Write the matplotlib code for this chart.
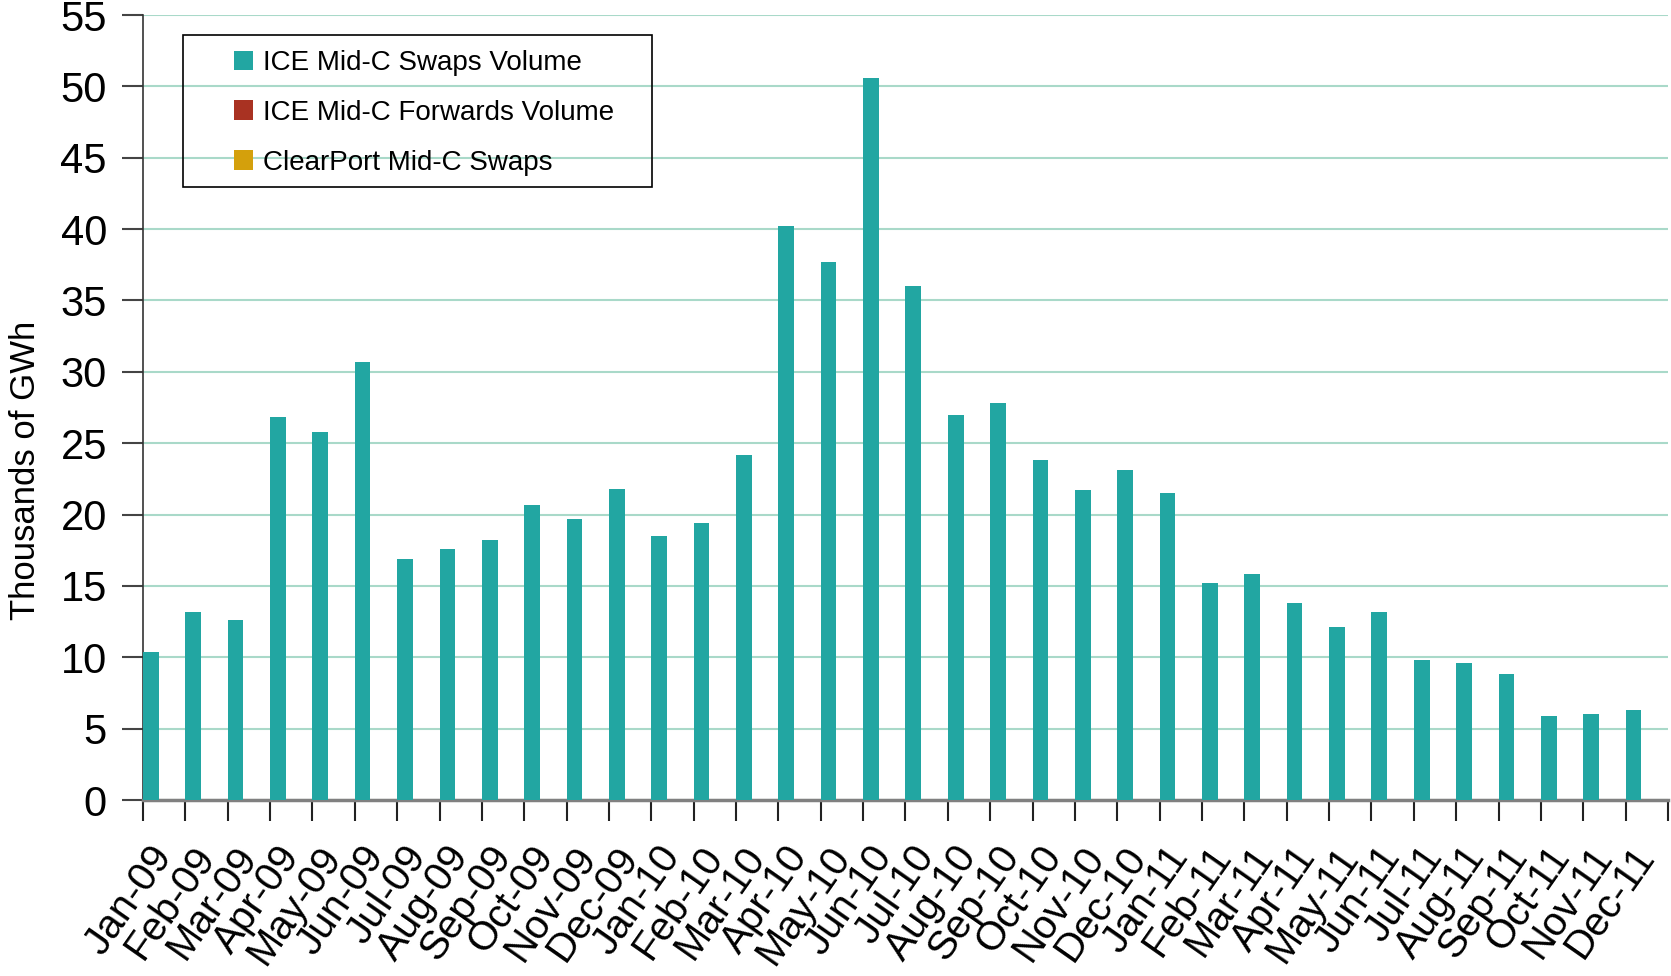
import matplotlib
matplotlib.use('Agg')
import matplotlib.pyplot as plt
from matplotlib.patches import Rectangle
import numpy as np

plt.rcParams['font.family'] = ['Liberation Sans', 'DejaVu Sans']

# 月份标签
months = ['Jan-09', 'Feb-09', 'Mar-09', 'Apr-09', 'May-09', 'Jun-09',
          'Jul-09', 'Aug-09', 'Sep-09', 'Oct-09', 'Nov-09', 'Dec-09',
          'Jan-10', 'Feb-10', 'Mar-10', 'Apr-10', 'May-10', 'Jun-10',
          'Jul-10', 'Aug-10', 'Sep-10', 'Oct-10', 'Nov-10', 'Dec-10',
          'Jan-11', 'Feb-11', 'Mar-11', 'Apr-11', 'May-11', 'Jun-11',
          'Jul-11', 'Aug-11', 'Sep-11', 'Oct-11', 'Nov-11', 'Dec-11']

# 数据 (千 GWh)
ice_swaps = [10.4, 13.2, 12.6, 26.8, 25.8, 30.7,
             16.9, 17.6, 18.2, 20.7, 19.7, 21.8,
             18.5, 19.4, 24.2, 40.2, 37.7, 50.6,
             36.0, 27.0, 27.8, 23.8, 21.7, 23.1,
             21.5, 15.2, 15.8, 13.8, 12.1, 13.2,
             9.8, 9.6, 8.8, 5.9, 6.0, 6.3]
ice_forwards = [0] * 36
clearport = [0] * 36

series_names = ['ICE Mid-C Swaps Volume', 'ICE Mid-C Forwards Volume',
                'ClearPort Mid-C Swaps']
colors = ['#22A6A2', '#A93222', '#D4A00C']

W, H = 1671, 976
fig = plt.figure(figsize=(W / 100, H / 100), dpi=100)
ax = fig.add_axes([143 / W, 1 - 800 / H, (1668 - 143) / W, (800 - 15) / H])

x = np.arange(len(months))
bw = 0.37
handles = []
for k, (vals, name, c) in enumerate(zip([ice_swaps, ice_forwards, clearport],
                                        series_names, colors)):
    b = ax.bar(x + bw / 2 + k * bw, vals, width=bw, color=c, linewidth=0,
               label=name, zorder=3)
    handles.append(b)

ax.set_xlim(0, len(months))
ax.set_ylim(0, 55)
ax.set_yticks(np.arange(0, 56, 5))
ax.yaxis.grid(True, color='#A9D9C9', linewidth=1.5, zorder=0)
ax.set_axisbelow(True)

# x 轴: 主刻度在分界处, 标签放在次刻度(类别中心)
ax.set_xticks(np.arange(0, len(months) + 1))
ax.set_xticklabels([])
ax.set_xticks(x + 0.5, minor=True)
ax.set_xticklabels(months, minor=True, rotation=55, ha='right',
                   va='center', rotation_mode='anchor', fontsize=29)
ax.tick_params(axis='x', which='major', length=15, width=1.5,
               color='#222222', direction='out')
ax.tick_params(axis='x', which='minor', length=0, pad=36)
ax.tick_params(axis='y', length=15, width=1.5, color='#444444',
               direction='out', labelsize=30, pad=11)

for s in ['top', 'right']:
    ax.spines[s].set_visible(False)
ax.spines['left'].set_color('#333333')
ax.spines['left'].set_linewidth(1.2)
ax.spines['bottom'].set_color('#808080')
ax.spines['bottom'].set_linewidth(2.5)

ax.set_ylabel('Thousands of GWh', fontsize=25, va='center')
ax.yaxis.set_label_coords(-0.077, 0.42)

# 图例
fig.add_artist(Rectangle((183 / W, 1 - 186.5 / H), (652 - 183) / W,
                         (186.5 - 35) / H, transform=fig.transFigure,
                         fill=False, edgecolor='black', linewidth=1.2))
fig.legend(handles=handles, loc='upper left',
           bbox_to_anchor=(234 / W, 1 - 50 / H), frameon=False,
           fontsize=20, borderpad=0, borderaxespad=0,
           handlelength=0.7, handleheight=0.7, handletextpad=0.35,
           labelspacing=0.86)

fig.savefig('out.png', dpi=100)
